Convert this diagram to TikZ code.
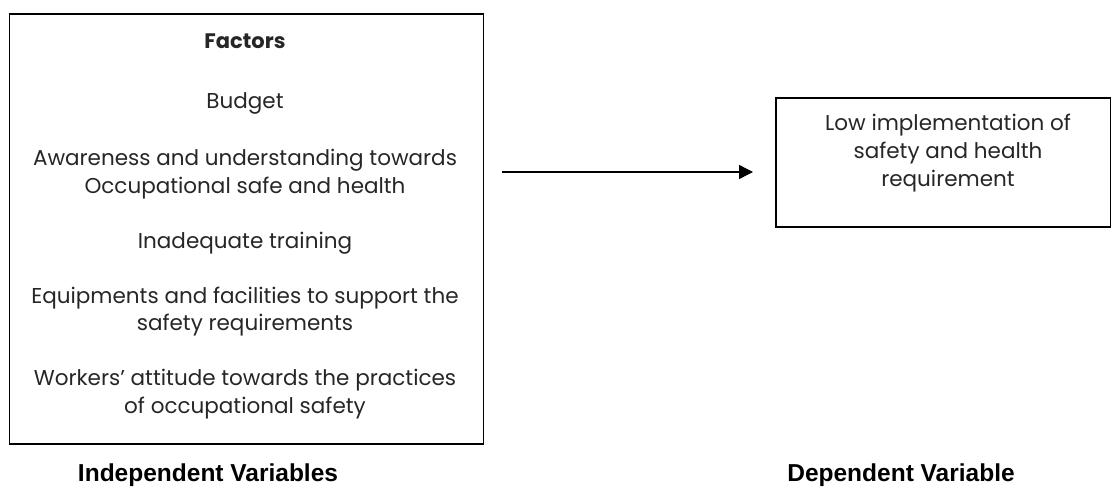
\documentclass[tikz,border=0pt]{standalone}
\usepackage{fontspec}
\setmainfont{Poppins}
\newfontfamily\labelfont{Liberation Sans}
\usetikzlibrary{arrows.meta}
\begin{document}
\begin{tikzpicture}[x=1pt,y=-1pt,
  boxstyle/.style={draw=black,line width=1.5pt,inner sep=0pt,anchor=north west},
  bodytxt/.style={anchor=base,inner sep=0pt,font=\fontsize{21.5}{28}\selectfont,text=black!85},
  labeltxt/.style={anchor=base,inner sep=0pt,font=\labelfont\bfseries\fontsize{24.5}{28}\selectfont},
  conn/.style={line width=1.4pt,-{Triangle[length=14pt,width=14pt]}}]
\useasboundingbox (0,0) rectangle (1111,491);
% boxes
\node[boxstyle,minimum width=474pt,minimum height=430pt] (L) at (8.5,13) {};
\node[boxstyle,minimum width=335pt,minimum height=129pt] (R) at (775,97) {};
% left box text
\node[bodytxt,font=\bfseries\fontsize{21}{28}\selectfont] (f0) at (245,48) {Factors};
\node[bodytxt] (f1) at (245,108) {Budget};
\node[bodytxt] (f2a) at (245,165) {Awareness and understanding towards};
\node[bodytxt] (f2b) at (245,193) {Occupational safe and health};
\node[bodytxt] (f3) at (245,248) {Inadequate training};
\node[bodytxt] (f4a) at (245,303) {Equipments and facilities to support the};
\node[bodytxt] (f4b) at (245,330) {safety requirements};
\node[bodytxt] (f5a) at (245,385) {Workers’ attitude towards the practices};
\node[bodytxt] (f5b) at (245,413) {of occupational safety};
% right box text
\node[bodytxt] (r1) at (948,130) {Low implementation of};
\node[bodytxt] (r2) at (948,158) {safety and health};
\node[bodytxt] (r3) at (948,186) {requirement};
% arrow
\coordinate (a1) at (502,172);
\coordinate (a2) at (753,172);
\draw[conn] (a1) -- (a2);
% labels
\node[labeltxt] (li) at (208,481) {Independent Variables};
\node[labeltxt] (ld) at (901,481) {Dependent Variable};
\end{tikzpicture}
\end{document}
